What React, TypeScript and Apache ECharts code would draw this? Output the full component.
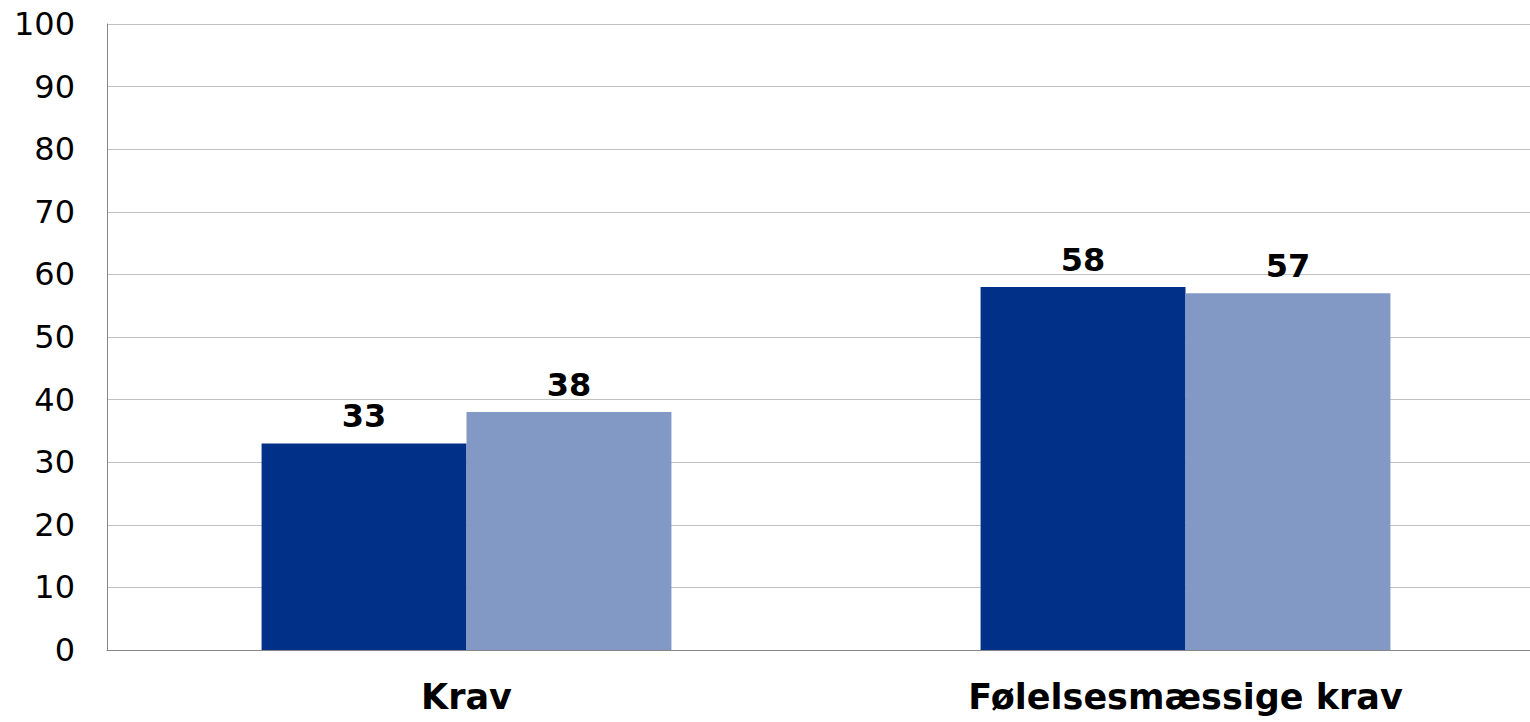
import React, { useEffect, useRef } from "react";
import * as echarts from "echarts";

const categories = ["Krav", "Følelsesmæssige krav"];
const series1Values = [33, 58];
const series2Values = [38, 57];
const yTicks = { min: 0, max: 100, interval: 10 };

const FONT = "'DejaVu Sans', Verdana, sans-serif";

export default function App() {
  const ref = useRef<HTMLDivElement>(null);
  useEffect(() => {
    if (!ref.current) return;
    const chart = echarts.init(ref.current, null, { renderer: "svg" });
    const labelStyle = {
      show: true,
      position: "top",
      distance: 11,
      fontFamily: FONT,
      fontWeight: "bold",
      fontSize: 32,
      color: "#000000",
    };
    chart.setOption({
      animation: false,
      grid: { left: 107, right: 0, top: 24, bottom: 72, containLabel: false },
      xAxis: {
        type: "category",
        data: categories,
        axisLine: { show: true, lineStyle: { color: "#868686", width: 1 } },
        axisTick: { show: false },
        axisLabel: {
          fontFamily: FONT,
          fontWeight: "bold",
          fontSize: 35,
          color: "#000000",
          margin: 29,
        },
      },
      yAxis: {
        type: "value",
        min: yTicks.min,
        max: yTicks.max,
        interval: yTicks.interval,
        axisLine: { show: true, lineStyle: { color: "#868686", width: 1 } },
        axisTick: { show: false },
        splitLine: { show: true, lineStyle: { color: "#c0c0c0", width: 1 } },
        axisLabel: {
          fontFamily: FONT,
          fontSize: 32,
          color: "#000000",
          margin: 32,
        },
      },
      series: [
        {
          name: "Series 1",
          type: "bar",
          data: series1Values,
          itemStyle: { color: "#003087" },
          barGap: "0%",
          barCategoryGap: "43%",
          label: labelStyle,
        },
        {
          name: "Series 2",
          type: "bar",
          data: series2Values,
          itemStyle: { color: "#8299c5" },
          barGap: "0%",
          barCategoryGap: "43%",
          label: labelStyle,
        },
      ],
    });
    return () => chart.dispose();
  }, []);
  return (
    <div
      style={{
        position: "fixed",
        left: 0,
        top: 0,
        width: 1530,
        height: 722,
        overflow: "hidden",
        background: "#ffffff",
      }}
    >
      <div ref={ref} style={{ width: 1545, height: 722 }} />
    </div>
  );
}
